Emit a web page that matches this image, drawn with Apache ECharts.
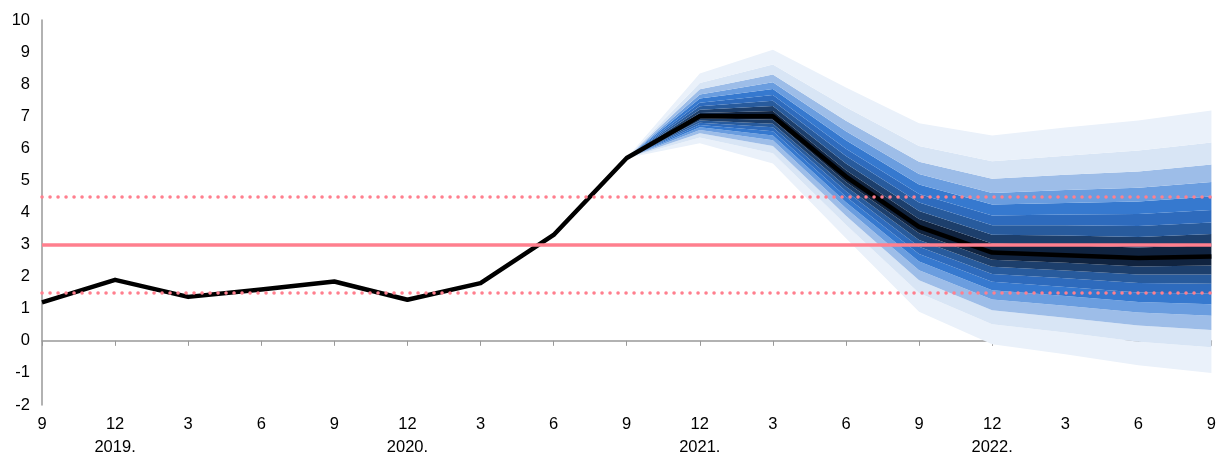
<!DOCTYPE html>
<html>
<head>
<meta charset="utf-8">
<script src="https://cdn.jsdelivr.net/npm/echarts@6/dist/echarts.min.js"></script>
<style>
  html, body { margin: 0; padding: 0; background: #fff; }
  #chart { width: 1219px; height: 459px; }
</style>
</head>
<body>
<div id="chart"></div>
<script>
// x axis: quarter months, year written under December
const tickLabels = ['9', '12', '3', '6', '9', '12', '3', '6', '9', '12', '3', '6', '9', '12', '3', '6', '9'];
const yearLabels = ['', '2019.', '', '', '', '2020.', '', '', '', '2021.', '', '', '', '2022.', '', '', ''];

// inflation path (actual + central projection)
const mainLine = [1.2, 1.9, 1.37, 1.6, 1.85, 1.28, 1.8, 3.3, 5.7, 7.0, 7.0, 5.12, 3.55, 2.75, 2.67, 2.58, 2.63];

// target and tolerance band
const target = 3;
const tolHigh = 4.5;
const tolLow = 1.5;

// fan starts at this category index
const fanStart = 8;

// fan boundaries (from category 8 onward)
const lo90 = [5.7, 6.16, 5.53, 3.20, 0.91, -0.11, -0.42, -0.76, -1.00];
const lo80 = [5.7, 6.34, 5.85, 3.62, 1.49, 0.52, 0.26, -0.03, -0.20];
const lo70 = [5.7, 6.47, 6.07, 3.90, 1.89, 0.95, 0.72, 0.48, 0.34];
const lo60 = [5.7, 6.57, 6.25, 4.13, 2.20, 1.29, 1.09, 0.88, 0.78];
const lo50 = [5.7, 6.66, 6.40, 4.32, 2.47, 1.58, 1.40, 1.21, 1.14];
const lo40 = [5.7, 6.73, 6.53, 4.49, 2.71, 1.84, 1.68, 1.51, 1.47];
const lo30 = [5.7, 6.80, 6.66, 4.66, 2.93, 2.08, 1.95, 1.80, 1.78];
const lo20 = [5.7, 6.87, 6.77, 4.81, 3.14, 2.31, 2.19, 2.07, 2.07];
const lo10 = [5.7, 6.94, 6.89, 4.95, 3.35, 2.53, 2.43, 2.32, 2.35];
const hi10 = [5.7, 7.10, 7.16, 5.32, 3.80, 3.03, 2.98, 2.91, 2.98];
const hi20 = [5.7, 7.20, 7.32, 5.53, 4.05, 3.31, 3.28, 3.24, 3.33];
const hi30 = [5.7, 7.31, 7.48, 5.76, 4.31, 3.60, 3.60, 3.58, 3.69];
const hi40 = [5.7, 7.42, 7.66, 5.99, 4.58, 3.91, 3.94, 3.95, 4.08];
const hi50 = [5.7, 7.55, 7.85, 6.25, 4.87, 4.25, 4.30, 4.34, 4.50];
const hi60 = [5.7, 7.68, 8.06, 6.53, 5.20, 4.61, 4.70, 4.77, 4.95];
const hi70 = [5.7, 7.84, 8.30, 6.86, 5.58, 5.05, 5.18, 5.28, 5.50];
const hi80 = [5.7, 8.04, 8.61, 7.28, 6.07, 5.60, 5.77, 5.93, 6.18];
const hi90 = [5.7, 8.33, 9.07, 7.90, 6.78, 6.40, 6.65, 6.87, 7.18];

// ring colours, outermost first
const ringColors = ['#eaf1fa', '#d8e5f5', '#9dbde8', '#6a9ddf', '#3679cf', '#2e6bbd', '#285b9d', '#1d3f6c', '#10233f'];

const bounds = [lo90, lo80, lo70, lo60, lo50, lo40, lo30, lo20, lo10, hi10, hi20, hi30, hi40, hi50, hi60, hi70, hi80, hi90];
const bandColors = [];
for (let i = 0; i < 8; i++) bandColors.push(ringColors[i]);
bandColors.push(ringColors[8]);
for (let i = 7; i >= 0; i--) bandColors.push(ringColors[i]);

const pad = (arr) => {
    const out = [];
    for (let i = 0; i < tickLabels.length; i++) {
        out.push(i < fanStart ? '-' : arr[i - fanStart]);
    }
    return out;
};

const series = [];
// invisible base
series.push({
    type: 'line',
    stack: 'fan',
    stackStrategy: 'all',
    data: pad(lo90),
    symbol: 'none',
    lineStyle: { opacity: 0 },
    silent: true,
    z: 1
});
for (let b = 1; b < bounds.length; b++) {
    const diff = bounds[b].map((v, i) => +(v - bounds[b - 1][i]).toFixed(3));
    series.push({
        type: 'line',
        stack: 'fan',
        stackStrategy: 'all',
        data: pad(diff),
        symbol: 'none',
        lineStyle: { width: 0 },
        areaStyle: { color: bandColors[b - 1], opacity: 1 },
        silent: true,
        z: 1
    });
}

// central path
series.push({
    type: 'line',
    data: mainLine,
    symbol: 'none',
    lineStyle: { color: '#000', width: 4.5, join: 'round' },
    z: 3
});

// target and tolerance lines
series.push({
    type: 'line',
    data: [],
    z: 4,
    markLine: {
        silent: true,
        symbol: 'none',
        label: { show: false },
        data: [
            { yAxis: target, lineStyle: { color: '#ff7f8e', width: 3.5, type: 'solid' } },
            { yAxis: tolHigh, lineStyle: { color: '#ff7f8e', width: 3.5, type: [0.1, 7.9], cap: 'round' } },
            { yAxis: tolLow, lineStyle: { color: '#ff7f8e', width: 3.5, type: [0.1, 7.9], cap: 'round' } }
        ]
    }
});

const chart = echarts.init(document.getElementById('chart'));
chart.setOption({
    animation: false,
    grid: { left: 42, right: 7, top: 20, bottom: 52 },
    xAxis: {
        type: 'category',
        boundaryGap: false,
        data: tickLabels.map((t, i) => String(i)),
        axisLine: { lineStyle: { color: '#999', width: 1.5 } },
        axisTick: { show: true, length: 5, lineStyle: { color: '#999' } },
        axisLabel: {
            interval: 0,
            color: '#000',
            fontFamily: 'Liberation Sans',
            fontSize: 16.5,
            lineHeight: 23,
            margin: 8,
            formatter: (v, i) => tickLabels[i] + (yearLabels[i] ? '\n' + yearLabels[i] : '')
        },
        splitLine: { show: false }
    },
    yAxis: {
        type: 'value',
        min: -2,
        max: 10,
        interval: 1,
        axisLine: { show: true, lineStyle: { color: '#999', width: 1.5 } },
        axisTick: { show: false },
        axisLabel: { color: '#000', fontFamily: 'Liberation Sans', fontSize: 16.5, margin: 12 },
        splitLine: { show: false }
    },
    series: series
});
</script>
</body>
</html>
